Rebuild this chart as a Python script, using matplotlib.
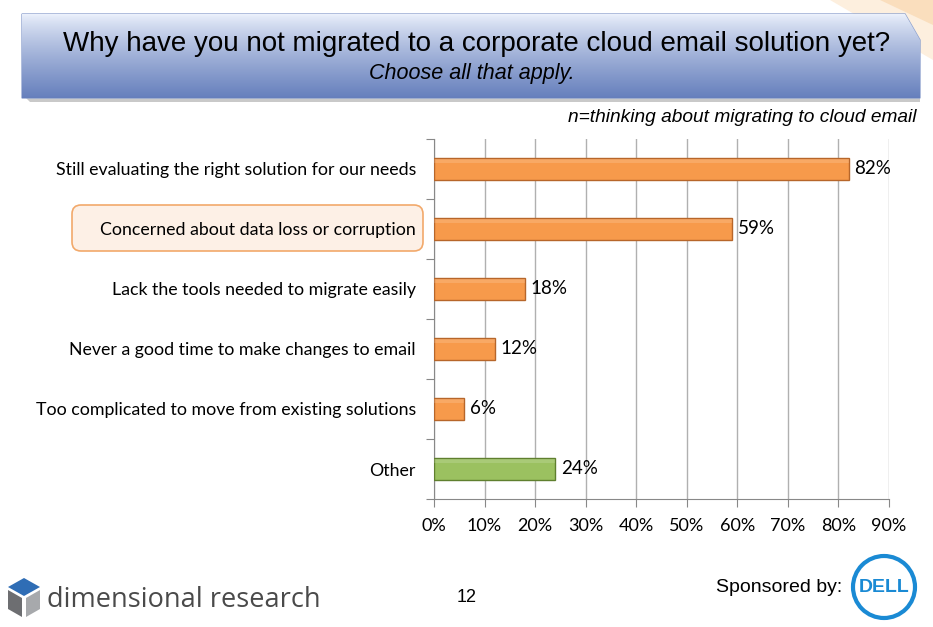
import numpy as np
import matplotlib.pyplot as plt
from matplotlib.patches import FancyBboxPatch, Polygon, Circle

# data
categories = ["Still evaluating the right solution for our needs",
              "Concerned about data loss or corruption",
              "Lack the tools needed to migrate easily",
              "Never a good time to make changes to email",
              "Too complicated to move from existing solutions",
              "Other"]
values = [82, 59, 18, 12, 6, 24]
bar_colors = ["#f79a4b", "#f79a4b", "#f79a4b", "#f79a4b", "#f79a4b", "#9bc160"]
edge_colors = ["#b7662a", "#b7662a", "#b7662a", "#b7662a", "#b7662a", "#5f7f2e"]
xticks = [0, 10, 20, 30, 40, 50, 60, 70, 80, 90]

W, H = 933, 627
fig = plt.figure(figsize=(W / 100, H / 100), dpi=100)
fig.patch.set_facecolor("white")

# overlay axes in pixel coordinates for the slide decorations
deco = fig.add_axes([0, 0, 1, 1], zorder=0)
deco.set_xlim(0, W)
deco.set_ylim(H, 0)
deco.axis("off")

# orange swoosh, top right
deco.add_patch(Polygon([(830, 0), (933, 0), (933, 60)], closed=True,
                       facecolor="#fdebd6", edgecolor="none", alpha=0.8))
deco.add_patch(Polygon([(880, 0), (933, 0), (933, 25)], closed=True,
                       facecolor="#f8d3a8", edgecolor="none", alpha=0.6))

# title banner with gradient
banner = Polygon([(22, 14), (905, 14), (920, 40), (920, 98), (22, 98)],
                 closed=True, facecolor="none", edgecolor="#8fa3cf", lw=1)
deco.add_patch(banner)
grad = np.linspace(0, 1, 256).reshape(-1, 1)
top = np.array([0.93, 0.95, 0.99])
bot = np.array([0.40, 0.50, 0.74])
img = top + (bot - top) * grad[..., None] ** 0.8
im = deco.imshow(img, extent=[22, 920, 98, 14], aspect="auto", zorder=1)
im.set_clip_path(banner)
deco.add_patch(Polygon([(26, 98), (920, 98), (920, 102), (30, 102)], closed=True,
                       facecolor="#c9c9c9", edgecolor="none", zorder=0))

deco.text(477, 44, "Why have you not migrated to a corporate cloud email solution yet?",
          ha="center", va="center", fontsize=20, family="Liberation Sans", zorder=3)
deco.text(472, 73, "Choose all that apply.", ha="center", va="center",
          fontsize=15.5, style="italic", family="Liberation Sans", zorder=3)
deco.text(916, 117, "n=thinking about migrating to cloud email", ha="right",
          va="center", fontsize=13.8, style="italic", family="Liberation Sans")

# highlight box behind the second label
deco.add_patch(FancyBboxPatch((72, 205), 351, 46, boxstyle="round,pad=0,rounding_size=9",
                              facecolor="#fdf0e6", edgecolor="#f2a96b", lw=1.2))

# footer: cube logo
deco.add_patch(Polygon([(8, 587), (24, 578), (40, 587), (24, 596)], closed=True,
                       facecolor="#2f6db5", edgecolor="none"))
deco.add_patch(Polygon([(8, 590), (22, 598), (22, 617), (8, 609)], closed=True,
                       facecolor="#6d6e71", edgecolor="none"))
deco.add_patch(Polygon([(26, 598), (40, 590), (40, 609), (26, 617)], closed=True,
                       facecolor="#a7a9ac", edgecolor="none"))
deco.text(47, 600, "dimensional research", ha="left", va="center", fontsize=19.5,
          color="#4a4a4a", family="Open Sans")
deco.text(467, 597, "12", ha="center", va="center", fontsize=13, family="Liberation Sans")
deco.text(716, 588, "Sponsored by:", ha="left", va="center", fontsize=14,
          family="Liberation Sans")
deco.add_patch(Circle((884, 587), 31, facecolor="white", edgecolor="#1a8ad4", lw=3))
deco.text(884, 587, "DELL", ha="center", va="center", fontsize=14, fontweight="bold",
          color="#1a8ad4", family="Liberation Sans")

# chart
ax = fig.add_axes([434 / W, 128 / H, 455 / W, 360 / H], zorder=2)
ax.patch.set_alpha(0)
y = np.arange(len(categories))
ax.barh(y, values, height=0.38, color=bar_colors, edgecolor=edge_colors, lw=1, zorder=3)
# lighter top highlight on each bar
ax.barh(y - 0.13, values, height=0.07, color="white", alpha=0.15, lw=0, zorder=4)
for yi, v in zip(y, values):
    ax.text(v + 1.1, yi, f"{v}%", ha="left", va="center", fontsize=13.5,
            family="Lato", zorder=5)

ax.set_xlim(0, 90)
ax.set_ylim(len(categories) - 0.5, -0.5)
ax.set_xticks(xticks)
ax.set_xticklabels([f"{t}%" for t in xticks], fontsize=13, family="Lato")
ax.set_yticks(np.arange(-0.5, len(categories), 1))
ax.set_yticklabels([])
ax.set_yticks(y, minor=True)
ax.set_yticklabels(categories, minor=True, fontsize=12.8, family="Lato")
ax.tick_params(axis="y", which="minor", length=0, pad=13)
ax.tick_params(axis="y", which="major", length=6, color="#888888")
ax.tick_params(axis="x", length=6, color="#888888", pad=8)
ax.grid(axis="x", color="#b0b0b0", lw=1, zorder=0)
for s in ["top", "right"]:
    ax.spines[s].set_visible(False)
ax.spines["left"].set_color("#888888")
ax.spines["bottom"].set_color("#888888")

fig.savefig("out.png", dpi=100)
